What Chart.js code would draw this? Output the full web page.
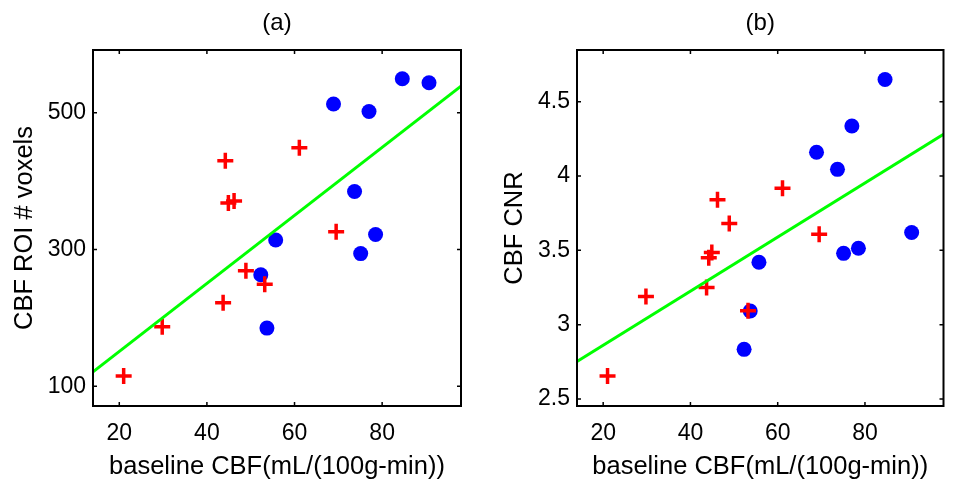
<!DOCTYPE html>
<html>
<head>
<meta charset="utf-8">
<script src="https://cdn.jsdelivr.net/npm/chart.js@4/dist/chart.umd.min.js"></script>
<style>
  body { margin: 0; background: #fff; }
  #wrap { position: relative; width: 955px; height: 480px; }
  #wrap div { position: absolute; top: 0; height: 480px; }
</style>
</head>
<body>
<div id="wrap">
  <div style="left:0;width:480px"><canvas id="chartA"></canvas></div>
  <div style="left:480px;width:475px"><canvas id="chartB"></canvas></div>
</div>
<script>
// baseline CBF (x) shared by both panels
const redCBF  = [21.0, 29.8, 43.7, 44.2, 44.9, 46.2, 48.9, 53.2, 61.1, 69.5];
const blueCBF = [52.3, 53.7, 55.7, 68.9, 73.7, 75.1, 77.0, 78.5, 84.6, 90.7];

// panel (a): CBF ROI # voxels
const redVoxels  = [115, 187, 222, 430, 368, 371, 269, 249, 449, 326];
const blueVoxels = [263, 185, 314, 513, 385, 294, 502, 322, 550, 544];
const fitVoxels  = [{ x: 14, y: 121 }, { x: 98, y: 539 }];

// panel (b): CBF CNR
const redCNR  = [2.655, 3.19, 3.25, 3.45, 3.485, 3.84, 3.68, 3.094, 3.918, 3.608];
const blueCNR = [2.834, 3.092, 3.42, 4.16, 4.045, 3.48, 4.337, 3.514, 4.65, 3.62];
const fitCNR  = [{ x: 14, y: 2.753 }, { x: 98, y: 4.281 }];

const xTicks = [20, 40, 60, 80];
const yTicksA = [100, 300, 500];
const yTicksB = [2.5, 3, 3.5, 4, 4.5];

Chart.defaults.font.family = "'Liberation Sans', Arial, sans-serif";
Chart.defaults.font.size = 23;
Chart.defaults.color = '#000';

const toPts = (xs, ys) => xs.map((x, i) => ({ x: x, y: ys[i] }));

// frame with inward ticks on all four sides, like MATLAB
const framePlugin = {
  id: 'frame',
  afterDraw(chart) {
    const { ctx, chartArea: a, scales } = chart;
    ctx.save();
    ctx.strokeStyle = '#000';
    ctx.lineWidth = 2;
    ctx.strokeRect(a.left, a.top, a.right - a.left, a.bottom - a.top);
    ctx.lineWidth = 1.5;
    ctx.beginPath();
    scales.x.ticks.forEach(t => {
      const px = scales.x.getPixelForValue(t.value);
      ctx.moveTo(px, a.bottom); ctx.lineTo(px, a.bottom - 4);
      ctx.moveTo(px, a.top); ctx.lineTo(px, a.top + 4);
    });
    scales.y.ticks.forEach(t => {
      const py = scales.y.getPixelForValue(t.value);
      ctx.moveTo(a.left, py); ctx.lineTo(a.left + 4, py);
      ctx.moveTo(a.right, py); ctx.lineTo(a.right - 4, py);
    });
    ctx.stroke();
    ctx.restore();
  }
};

function makeChart(id, opts) {
  new Chart(document.getElementById(id), {
    type: 'scatter',
    data: {
      datasets: [
        {
          type: 'line', data: opts.fit, borderColor: '#00ff00', borderWidth: 3,
          pointRadius: 0, fill: false, tension: 0
        },
        {
          data: toPts(redCBF, opts.red), pointStyle: 'cross', pointRadius: 8,
          borderColor: '#ff0000', backgroundColor: '#ff0000', borderWidth: 3.5
        },
        {
          data: toPts(blueCBF, opts.blue), pointStyle: 'circle', pointRadius: 7.5,
          borderColor: '#0000ff', backgroundColor: '#0000ff', borderWidth: 0
        }
      ]
    },
    options: {
      responsive: true,
      maintainAspectRatio: false,
      animation: false,
      layout: { padding: { left: 0, right: opts.padRight, top: 0, bottom: 0 } },
      plugins: {
        legend: { display: false },
        tooltip: { enabled: false },
        title: {
          display: true, text: opts.title, fullSize: false,
          font: { size: 24, weight: 'normal', lineHeight: 1 },
          padding: { top: 11, bottom: 15 }, color: '#000'
        }
      },
      scales: {
        x: {
          type: 'linear', min: 14, max: 98,
          grid: { display: false, drawTicks: false },
          border: { display: false },
          afterBuildTicks: s => { s.ticks = xTicks.map(v => ({ value: v })); },
          afterFit: s => { s.height = 74; },
          ticks: { padding: 14, font: { size: 23 }, callback: v => String(v) },
          title: {
            display: true, text: 'baseline CBF(mL/(100g-min))',
            font: { size: 25.5, lineHeight: 1 }, padding: { top: 0, bottom: 0.5 }
          }
        },
        y: {
          type: 'linear', min: opts.ymin, max: opts.ymax,
          grid: { display: false, drawTicks: false },
          border: { display: false },
          afterBuildTicks: s => { s.ticks = opts.yTicks.map(v => ({ value: v })); },
          afterFit: s => { s.width = opts.yWidth; },
          ticks: { padding: 7, font: { size: 23 }, callback: v => String(v) },
          title: {
            display: true, text: opts.ylabel,
            font: { size: 25.5, lineHeight: 1 }, padding: { top: opts.yTitlePad, bottom: 0 }
          }
        }
      }
    },
    plugins: [framePlugin]
  });
}

makeChart('chartA', {
  title: '(a)', ylabel: 'CBF ROI # voxels',
  red: redVoxels, blue: blueVoxels, fit: fitVoxels,
  ymin: 71, ymax: 592, yTicks: yTicksA,
  yWidth: 93, padRight: 19, yTitlePad: 12
});

makeChart('chartB', {
  title: '(b)', ylabel: 'CBF CNR',
  red: redCNR, blue: blueCNR, fit: fitCNR,
  ymin: 2.453, ymax: 4.848, yTicks: yTicksB,
  yWidth: 97, padRight: 10, yTitlePad: 22
});
</script>
</body>
</html>
